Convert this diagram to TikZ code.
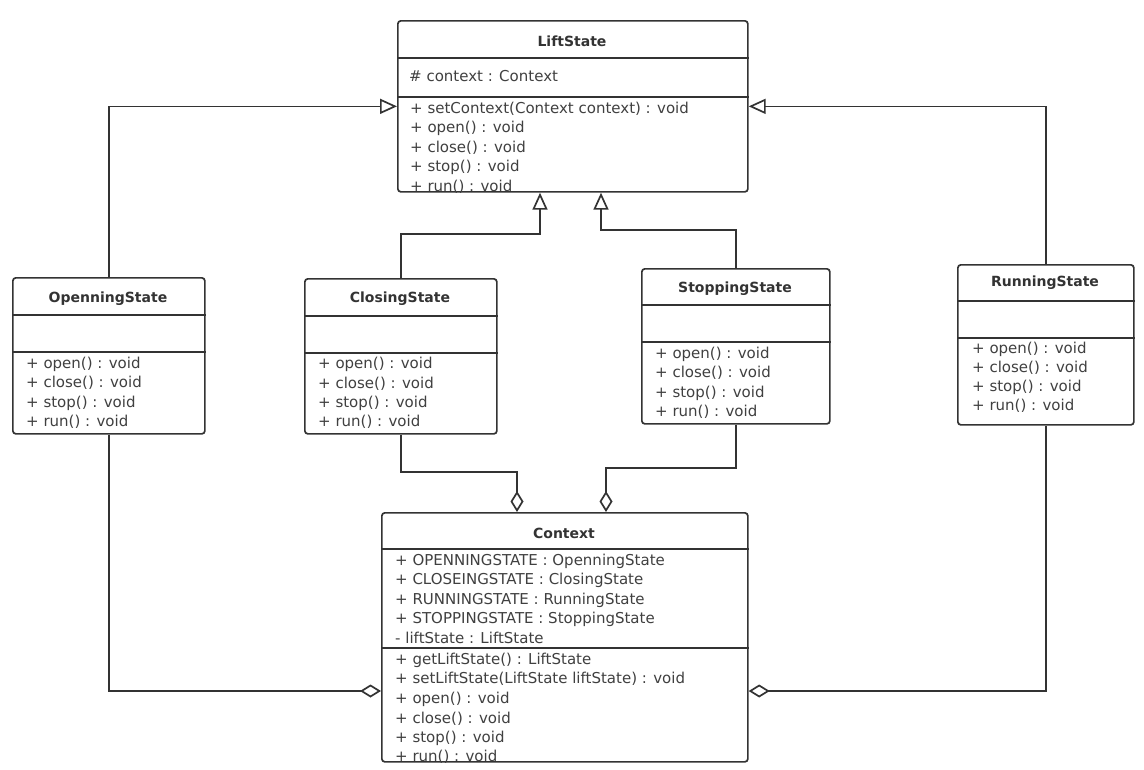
\documentclass[tikz,border=0pt]{standalone}
\usepackage{fontspec}
\setmainfont{DejaVu Sans}
\usetikzlibrary{arrows.meta}
\definecolor{ln}{HTML}{333333}
\definecolor{tx}{HTML}{404040}
\begin{document}
\begin{tikzpicture}[x=1pt,y=-1pt,
  cls/.style={draw=ln, line width=1.7pt, rounded corners=3pt, fill=white, inner sep=0pt, anchor=north west},
  sepline/.style={draw=ln, line width=1.7pt},
  mem/.style={anchor=west, inner sep=0pt, text=tx, font=\fontsize{15}{17}\selectfont, text height=10.5pt, text depth=3pt},
  ttl/.style={inner sep=0pt, text=ln, font=\fontsize{14}{16}\selectfont\bfseries},
  gen/.style={draw=ln, line width=1.7pt, -{Triangle[open, length=17pt, width=15pt]}},
  agg/.style={draw=ln, line width=1.7pt, -{Diamond[open, length=21pt, width=13pt]}}]
\useasboundingbox (0,0) rectangle (1144,769);
\fill[white] (0,0) rectangle (1144,769);

% boxes
\node[cls, minimum width=350pt, minimum height=171pt] (lift) at (397,20) {};
\node[cls, minimum width=192pt, minimum height=156pt] (open) at (12,277) {};
\node[cls, minimum width=192pt, minimum height=155pt] (close) at (304,278) {};
\node[cls, minimum width=188pt, minimum height=155pt] (stop) at (641,268) {};
\node[cls, minimum width=176pt, minimum height=160pt] (run) at (957,264) {};
\node[cls, minimum width=366pt, minimum height=249pt] (ctx) at (381,512) {};

% separators
\draw[sepline] (lift.west |- 0,58) -- (lift.east |- 0,58);
\draw[sepline] (lift.west |- 0,97) -- (lift.east |- 0,97);
\draw[sepline] (open.west |- 0,315) -- (open.east |- 0,315);
\draw[sepline] (open.west |- 0,352) -- (open.east |- 0,352);
\draw[sepline] (close.west |- 0,316) -- (close.east |- 0,316);
\draw[sepline] (close.west |- 0,353) -- (close.east |- 0,353);
\draw[sepline] (stop.west |- 0,305) -- (stop.east |- 0,305);
\draw[sepline] (stop.west |- 0,342) -- (stop.east |- 0,342);
\draw[sepline] (run.west |- 0,301) -- (run.east |- 0,301);
\draw[sepline] (run.west |- 0,338) -- (run.east |- 0,338);
\draw[sepline] (ctx.west |- 0,549) -- (ctx.east |- 0,549);
\draw[sepline] (ctx.west |- 0,648) -- (ctx.east |- 0,648);

% LiftState
\node[ttl] (lift-t) at (572,41) {LiftState};
\node[mem] (lift-a1) at (409,78) {\# context : Context};
\node[mem] (lift-m1) at (410,110) {+ setContext(Context context) : void};
\node[mem] (lift-m2) at (410,129) {+ open() : void};
\node[mem] (lift-m3) at (410,149) {+ close() : void};
\node[mem] (lift-m4) at (410,168) {+ stop() : void};
\node[mem] (lift-m5) at (410,188) {+ run() : void};

% OpenningState
\node[ttl] (open-t) at (108,299) {OpenningState};
\node[mem] (open-m1) at (26,365) {+ open() : void};
\node[mem] (open-m2) at (26,384) {+ close() : void};
\node[mem] (open-m3) at (26,404) {+ stop() : void};
\node[mem] (open-m4) at (26,423) {+ run() : void};

% ClosingState
\node[ttl] (close-t) at (400,299) {ClosingState};
\node[mem] (close-m1) at (318,365) {+ open() : void};
\node[mem] (close-m2) at (318,385) {+ close() : void};
\node[mem] (close-m3) at (318,404) {+ stop() : void};
\node[mem] (close-m4) at (318,423) {+ run() : void};

% StoppingState
\node[ttl] (stop-t) at (735,289) {StoppingState};
\node[mem] (stop-m1) at (655,355) {+ open() : void};
\node[mem] (stop-m2) at (655,374) {+ close() : void};
\node[mem] (stop-m3) at (655,394) {+ stop() : void};
\node[mem] (stop-m4) at (655,413) {+ run() : void};

% RunningState
\node[ttl] (run-t) at (1045,283) {RunningState};
\node[mem] (run-m1) at (972,350) {+ open() : void};
\node[mem] (run-m2) at (972,369) {+ close() : void};
\node[mem] (run-m3) at (972,388) {+ stop() : void};
\node[mem] (run-m4) at (972,407) {+ run() : void};

% Context
\node[ttl] (ctx-t) at (564,533) {Context};
\node[mem] (ctx-a1) at (395,562) {+ OPENNINGSTATE : OpenningState};
\node[mem] (ctx-a2) at (395,581) {+ CLOSEINGSTATE : ClosingState};
\node[mem] (ctx-a3) at (395,601) {+ RUNNINGSTATE : RunningState};
\node[mem] (ctx-a4) at (395,620) {+ STOPPINGSTATE : StoppingState};
\node[mem] (ctx-a5) at (395,640) {- liftState : LiftState};
\node[mem] (ctx-m1) at (395,661) {+ getLiftState() : LiftState};
\node[mem] (ctx-m2) at (395,680) {+ setLiftState(LiftState liftState) : void};
\node[mem] (ctx-m3) at (395,700) {+ open() : void};
\node[mem] (ctx-m4) at (395,720) {+ close() : void};
\node[mem] (ctx-m5) at (395,739) {+ stop() : void};
\node[mem] (ctx-m6) at (395,758) {+ run() : void};

% generalizations
\draw[gen] (open.north) |- (lift.west);
\draw[gen] (run.north) |- (lift.east);
\coordinate (j1) at (540,234);
\coordinate (j2) at (601,230);
\draw[gen] (close.north) |- (j1) -- (j1 |- lift.south);
\draw[gen] (stop.north) |- (j2) -- (j2 |- lift.south);

% aggregations
\coordinate (j3) at (517,472);
\coordinate (j4) at (606,468);
\coordinate (j5) at (0,691);
\draw[agg] (close.south) |- (j3) -- (j3 |- ctx.north);
\draw[agg] (stop.south) |- (j4) -- (j4 |- ctx.north);
\draw[agg] (open.south) |- (ctx.west |- j5);
\draw[agg] (run.south) |- (ctx.east |- j5);
\end{tikzpicture}
\end{document}
